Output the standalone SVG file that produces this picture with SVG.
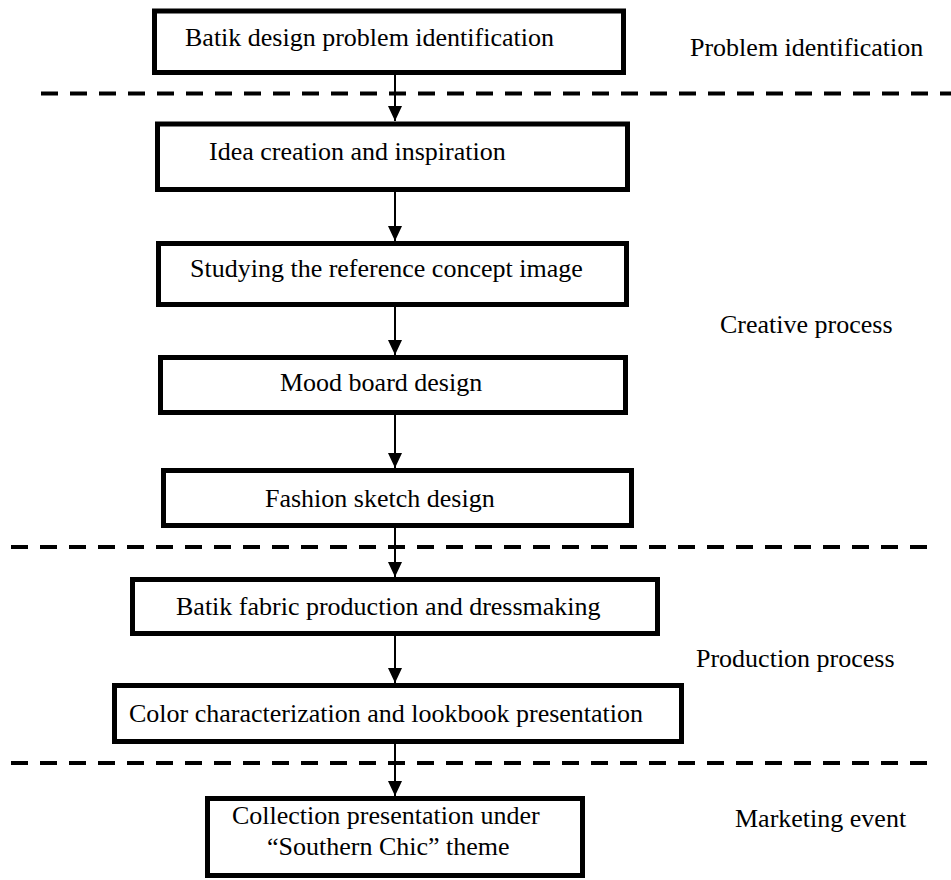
<svg xmlns="http://www.w3.org/2000/svg" width="951" height="880" viewBox="0 0 951 880">
<style>
.box{fill:#fff;stroke:#000;stroke-width:5}
.t{font-family:"Liberation Serif","Times New Roman",serif;font-size:26px;fill:#000}
.dash{stroke:#000;stroke-width:4;stroke-dasharray:17 12;fill:none}
.arr{stroke:#000;stroke-width:2;fill:none;marker-end:url(#ah)}
</style>
<defs>
<marker id="ah" markerUnits="userSpaceOnUse" markerWidth="16" markerHeight="14" refX="15" refY="7" orient="auto">
<path d="M0,0 L15,7 L0,14 Z" fill="#000"/>
</marker>
</defs>
<g id="separators">
<line class="dash" x1="41" y1="93.5" x2="951" y2="93.5"/>
<line class="dash" x1="11" y1="547" x2="934" y2="547"/>
<line class="dash" x1="11" y1="763" x2="934" y2="763"/>
</g>
<g id="connectors">
<line class="arr" x1="395" y1="74" x2="395" y2="121"/>
<line class="arr" x1="395" y1="192" x2="395" y2="241"/>
<line class="arr" x1="395" y1="307" x2="395" y2="355"/>
<line class="arr" x1="395" y1="415" x2="395" y2="468"/>
<line class="arr" x1="395" y1="528" x2="395" y2="577"/>
<line class="arr" x1="395" y1="636" x2="395" y2="683"/>
<line class="arr" x1="395" y1="744" x2="395" y2="796"/>
</g>
<g id="n1"><rect class="box" x="154.5" y="11" width="469" height="61.5"/><text class="t" x="185" y="46">Batik design problem identification</text></g>
<g id="n2"><rect class="box" x="157.5" y="124" width="470" height="65.5"/><text class="t" x="209" y="160">Idea creation and inspiration</text></g>
<g id="n3"><rect class="box" x="158.5" y="243.5" width="468" height="61"/><text class="t" x="190" y="277">Studying the reference concept image</text></g>
<g id="n4"><rect class="box" x="160.5" y="357.5" width="465" height="55"/><text class="t" x="280" y="391">Mood board design</text></g>
<g id="n5"><rect class="box" x="163.5" y="470.5" width="468" height="55"/><text class="t" x="265" y="507">Fashion sketch design</text></g>
<g id="n6"><rect class="box" x="132.5" y="579.5" width="525" height="54"/><text class="t" x="176" y="615">Batik fabric production and dressmaking</text></g>
<g id="n7"><rect class="box" x="114.5" y="685.5" width="567" height="56"/><text class="t" x="129" y="722">Color characterization and lookbook presentation</text></g>
<g id="n8"><rect class="box" x="207.5" y="798.5" width="375" height="77"/><text class="t" x="232" y="824">Collection presentation under</text><text class="t" x="267" y="855">“Southern Chic” theme</text></g>
<g id="labels">
<text class="t" x="690" y="56">Problem identification</text>
<text class="t" x="720" y="333">Creative process</text>
<text class="t" x="696" y="667">Production process</text>
<text class="t" x="735" y="827">Marketing event</text>
</g>
</svg>
